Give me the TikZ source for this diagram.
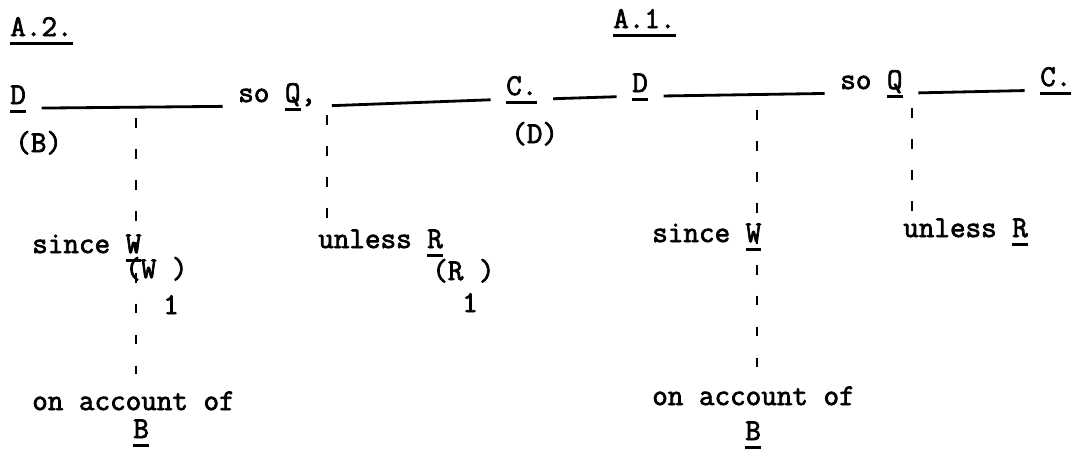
\documentclass[tikz,border=0pt]{standalone}
\usepackage{fontspec}
\newfontfamily\typewr{Latin Modern Mono}[FakeBold=2.4]
\newsavebox\ulbox
\newcommand{\typeul}[1]{\sbox\ulbox{#1}\rlap{\rule[-6.5pt]{\wd\ulbox}{2.1pt}}\usebox\ulbox}

\begin{document}
\begin{tikzpicture}[
    x=0.025cm, y=-0.025cm,
    txt/.style={font=\fontsize{21.5}{25}\selectfont\typewr, inner sep=0pt, anchor=base west},
    rule/.style={line width=2pt, shorten <=11pt, shorten >=11pt},
    dashline/.style={line width=2pt, dash pattern=on 7pt off 15pt}
]
    \useasboundingbox (0,0) rectangle (1082,462);

    % headings
    \node[txt] (a2) at (10,36) {\typeul{A.2.}};
    \node[txt] (a1) at (613,28) {\typeul{A.1.}};

    % main line
    \node[txt] (d2) at (10,104) {\typeul{D}};
    \node[txt] (so2) at (238,102) {so \typeul{Q},};
    \node[txt] (c2) at (506,95) {\typeul{C.}};
    \node[txt] (d1) at (632,92) {\typeul{D}};
    \node[txt] (so1) at (840,89) {so \typeul{Q}};
    \node[txt] (c1) at (1040,86) {\typeul{C.}};
    \node[txt] (b2) at (15,152) {(B)};
    \node[txt] (dd) at (511,143) {(D)};

    \draw[rule] ([yshift=-3pt]d2.base east) -- ([yshift=-3pt]so2.base west);
    \draw[rule] ([yshift=-3pt]so2.base east) -- ([yshift=-3pt]c2.base west);
    \draw[rule] ([yshift=-3pt]c2.base east) -- ([yshift=-3pt]d1.base west);
    \draw[rule] ([yshift=-3pt]d1.base east) -- ([yshift=-3pt]so1.base west);
    \draw[rule] ([yshift=-3pt]so1.base east) -- ([yshift=-3pt]c1.base west);

    % A.2 qualifiers
    \node[txt] (since2) at (32,253) {since \typeul{W}};
    \node[txt] (wone2) at (125,278) {(W )};
    \node[txt] (wsub2) at (163,314) {1};
    \node[txt] (acc2) at (32,410) {on account of};
    \node[txt] (back2) at (133,438) {\typeul{B}};
    \node[txt] (unless2) at (318,248) {unless \typeul{R}};
    \node[txt] (rone2) at (432,280) {(R )};
    \node[txt] (rsub2) at (462,312) {1};

    % A.1 qualifiers
    \node[txt] (since1) at (652,242) {since \typeul{W}};
    \node[txt] (acc1) at (652,405) {on account of};
    \node[txt] (back1) at (745,440) {\typeul{B}};
    \node[txt] (unless1) at (903,237) {unless \typeul{R}};

    \coordinate (w2) at (136,118);
    \coordinate (r2) at (327,115);
    \coordinate (w1) at (757,110);
    \coordinate (r1) at (912,108);

    \draw[dashline] (w2) -- ([yshift=12pt]w2 |- acc2.north);
    \draw[dashline] (r2) -- (r2 |- unless2.north);
    \draw[dashline] (w1) -- ([yshift=12pt]w1 |- acc1.north);
    \draw[dashline] (r1) -- (r1 |- unless1.north);
\end{tikzpicture}
\end{document}
